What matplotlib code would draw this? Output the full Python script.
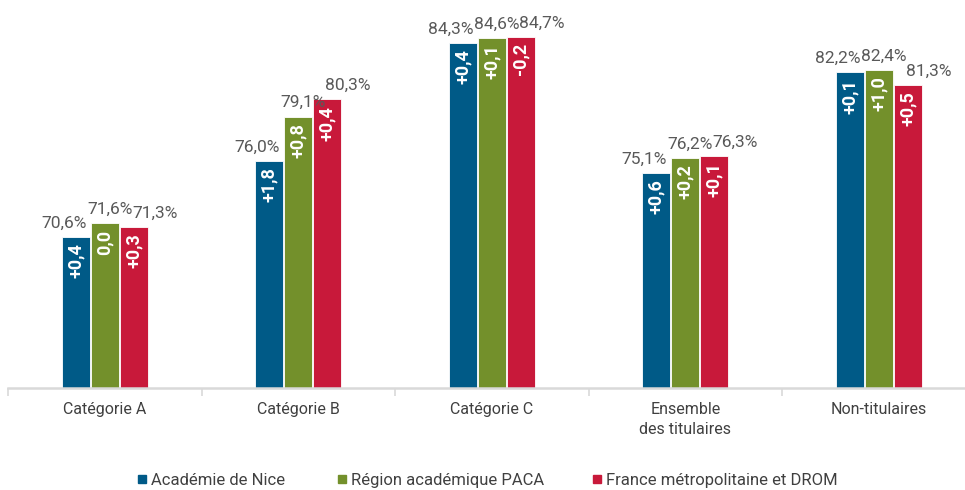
import numpy as np
import matplotlib.pyplot as plt
from matplotlib.lines import Line2D

plt.rcParams['font.family'] = ['Roboto', 'DejaVu Sans']

categories = ['Catégorie A', 'Catégorie B', 'Catégorie C', 'Ensemble\ndes titulaires', 'Non-titulaires']
series = ['Académie de Nice', 'Région académique PACA', 'France métropolitaine et DROM']
values = [
    [70.6, 76.0, 84.3, 75.1, 82.2],
    [71.6, 79.1, 84.6, 76.2, 82.4],
    [71.3, 80.3, 84.7, 76.3, 81.3],
]
changes = [
    ['+0,4', '+1,8', '+0,4', '+0,6', '+0,1'],
    ['0,0', '+0,8', '+0,1', '+0,2', '+1,0'],
    ['+0,3', '+0,4', '-0,2', '+0,1', '+0,5'],
]
colors = ['#005a87', '#73902b', '#c8193a']

fig = plt.figure(figsize=(9.65, 4.9), dpi=100)
ax = fig.add_axes([8 / 965, 1 - 388 / 490, 957 / 965, 388 / 490])

x = np.arange(len(categories))
width = 0.145
offsets = [-0.15, 0.0, 0.15]
label_shift = [-8.5, 3.5, 15]

for i in range(3):
    bars = ax.bar(x + offsets[i], values[i], width, bottom=0, color=colors[i],
                  edgecolor='white', linewidth=0.6, zorder=2)
    for j, b in enumerate(bars):
        v = values[i][j]
        ax.annotate(f'{v:.1f}%'.replace('.', ','), (b.get_x() + b.get_width() / 2, v),
                    xytext=(label_shift[i], 4.5), textcoords='offset points',
                    ha='center', va='bottom', fontsize=12.5, color='#595959')
        ax.annotate(changes[i][j], (b.get_x() + b.get_width() / 2, v),
                    xytext=(0, -4.5), textcoords='offset points',
                    ha='center', va='top', rotation=90, fontsize=13,
                    fontweight='bold', color='white')

ax.set_ylim(60, 87.3)
ax.set_xlim(-0.5, -0.5 + 957 / 193.5)

for s in ['top', 'right', 'left']:
    ax.spines[s].set_visible(False)
ax.spines['bottom'].set_color('#d9d9d9')
ax.spines['bottom'].set_linewidth(1.8)
ax.set_yticks([])

ax.set_xticks(x)
ax.set_xticklabels(categories, fontsize=11.5, color='#404040', linespacing=1.45)
ax.tick_params(axis='x', which='major', length=0, pad=10)
ax.set_xticks(np.arange(-0.5, 4.5, 1.0), minor=True)
ax.tick_params(axis='x', which='minor', length=6, color='#d9d9d9', width=1.2)

# one legend per entry so the spacing follows the reference
legend_x = [134 / 965, 334 / 965, 589 / 965]
for c, name, lx in zip(colors, series, legend_x):
    h = Line2D([0], [0], marker='s', linestyle='', markersize=6,
               markerfacecolor=c, markeredgecolor=c)
    fig.legend([h], [name], loc='center left', bbox_to_anchor=(lx, 10 / 490),
               frameon=False, fontsize=12, handletextpad=0.0, handlelength=1.0,
               borderpad=0, borderaxespad=0, labelcolor='#404040')

fig.savefig('out.png', dpi=100)
